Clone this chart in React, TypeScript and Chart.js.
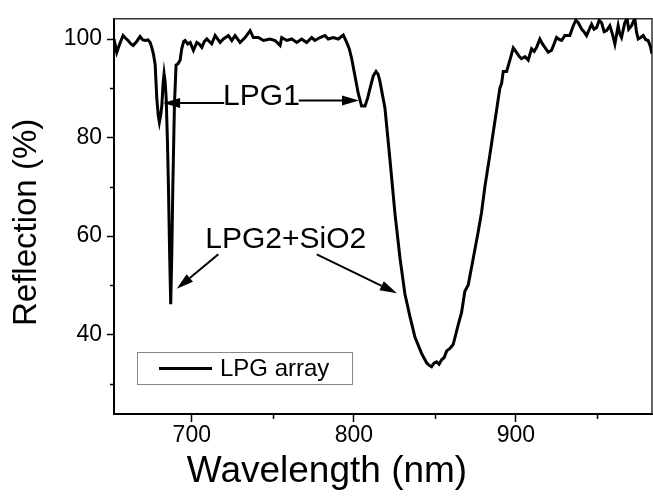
import React, { useEffect, useRef } from "react";
import { Chart, registerables } from "chart.js";

Chart.register(...registerables);

// ---------- data ----------
const seriesLabel = "LPG array";
const xTitle = "Wavelength (nm)";
const yTitle = "Reflection (%)";

const wavelengths = [
  652.0, 653.7, 655.5, 657.6, 659.0, 660.7, 662.5, 663.8, 666.0, 668.1, 669.8, 671.2, 673.0, 674.3, 675.3,
  676.3, 677.4, 678.4, 679.3, 680.0, 680.8, 681.5, 682.3, 682.9, 683.5, 684.2, 685.0, 685.6, 686.3, 687.0,
  687.7, 688.3, 689.3, 690.3, 691.5, 692.8, 693.8, 695.0, 695.9, 697.5, 699.0, 701.0, 703.1, 704.5, 706.2,
  707.8, 709.3, 712.3, 714.4, 717.5, 719.5, 722.6, 724.7, 726.7, 729.8, 732.9, 736.0, 738.0, 741.1, 744.2,
  748.3, 751.4, 754.5, 755.5, 758.6, 761.7, 764.8, 767.8, 770.9, 774.0, 776.0, 779.1, 782.2, 784.2, 787.3,
  790.4, 793.5, 795.6, 797.2, 798.7, 800.7, 802.7, 804.8, 806.9, 808.5, 810.0, 812.0, 813.7, 815.0, 816.1,
  819.2, 822.3, 825.4, 828.5, 831.5, 834.6, 837.7, 841.8, 844.9, 846.5, 848.0, 849.5, 851.1, 852.6, 854.2,
  855.8, 857.3, 859.3, 861.3, 864.4, 866.5, 868.5, 870.6, 873.7, 876.8, 878.8, 880.9, 884.0, 887.1, 890.1,
  891.2, 892.2, 894.3, 896.3, 898.4, 900.4, 902.0, 903.5, 905.6, 907.6, 909.7, 911.3, 912.8, 914.8, 916.4,
  917.9, 920.0, 922.0, 923.6, 925.1, 926.7, 928.2, 930.2, 933.3, 935.4, 937.0, 938.5, 940.6, 942.0, 943.6,
  946.7, 948.2, 949.8, 951.4, 952.9, 954.5, 956.0, 958.0, 959.6, 961.1, 963.1, 964.0, 965.2, 967.2, 968.6,
  969.6, 971.4, 973.4, 974.4, 975.5, 977.0, 978.6, 980.0, 981.6, 983.0, 984.0,
];

const reflection = [
  100.0, 97.3, 99.0, 100.7, 100.2, 99.7, 99.0, 98.7, 99.5, 100.5, 99.8, 99.7, 99.8, 99.3, 98.3,
  97.0, 94.8, 88.0, 84.5, 83.1, 84.5, 86.4, 91.0, 93.0, 91.5, 88.0, 79.0, 70.0, 57.0, 46.2,
  57.0, 70.0, 86.7, 94.7, 95.0, 95.7, 98.0, 99.5, 99.7, 99.0, 99.3, 97.7, 99.3, 99.0, 98.3,
  99.5, 100.0, 99.0, 100.7, 99.3, 100.0, 100.7, 99.7, 100.7, 99.3, 100.3, 101.7, 100.3, 100.3, 99.7,
  100.0, 99.7, 98.7, 100.3, 99.7, 100.0, 99.3, 100.0, 99.3, 100.3, 99.7, 100.3, 100.7, 100.0, 100.3,
  100.0, 100.8, 99.3, 98.0, 96.0, 92.5, 89.0, 86.4, 86.4, 88.0, 90.0, 92.5, 93.4, 92.8, 91.4,
  86.0, 75.5, 64.5, 55.5, 48.3, 43.7, 39.5, 36.2, 34.3, 33.8, 33.5, 34.2, 34.5, 34.0, 34.9,
  35.4, 36.7, 37.2, 38.0, 42.0, 44.5, 48.8, 50.1, 55.5, 61.0, 64.8, 70.1, 76.6, 83.4, 90.0,
  91.0, 93.4, 93.4, 95.7, 98.2, 97.3, 96.5, 96.0, 96.4, 95.7, 98.0, 97.5, 98.3, 100.0, 99.0,
  98.3, 97.3, 97.7, 99.0, 100.3, 99.9, 99.7, 100.7, 100.7, 102.7, 103.8, 103.3, 102.0, 101.5, 100.7,
  103.0, 102.0, 102.3, 103.8, 103.3, 101.5, 101.7, 102.7, 101.0, 99.0, 102.7, 101.2, 100.3, 103.3, 104.2,
  102.0, 102.7, 104.2, 101.5, 100.0, 100.3, 100.7, 99.9, 99.7, 98.5, 97.0,
];

// axis ranges and ticks
const xRange = [652, 984];
const yRange = [23.9, 104.1];
const xMajorTicks = [700, 800, 900];
const xMinorTicks = [750, 850, 950];
const yMajorTicks = [40, 60, 80, 100];
const yMinorTicks = [30, 50, 70, 90];

// annotations (data coordinates)
const annotationTexts = ["LPG1", "LPG2+SiO2"];
const annotationAnchors = [
  [743, 88.3],
  [758, 59.2],
];
const arrowStarts = [
  [720.0, 87.0],
  [766.0, 87.5],
  [716.4, 56.3],
  [777.1, 56.3],
];
const arrowEnds = [
  [682.3, 87.0],
  [803.2, 87.5],
  [690.7, 49.3],
  [826.6, 48.4],
];

// ---------- styling ----------
const FONT = "'Liberation Sans', Arial, Helvetica, sans-serif";

function drawArrow(ctx: CanvasRenderingContext2D, x1: number, y1: number, x2: number, y2: number) {
  const ang = Math.atan2(y2 - y1, x2 - x1);
  const headLen = 17;
  const headHalf = 5;
  const bx = x2 - headLen * Math.cos(ang);
  const by = y2 - headLen * Math.sin(ang);
  ctx.beginPath();
  ctx.moveTo(x1, y1);
  ctx.lineTo(bx, by);
  ctx.stroke();
  ctx.beginPath();
  ctx.moveTo(x2, y2);
  ctx.lineTo(bx + headHalf * Math.sin(ang), by - headHalf * Math.cos(ang));
  ctx.lineTo(bx - headHalf * Math.sin(ang), by + headHalf * Math.cos(ang));
  ctx.closePath();
  ctx.fill();
}

const decorPlugin = {
  id: "decor",
  beforeDatasetsDraw(chart: any) {
    const { ctx, chartArea: a } = chart;
    ctx.save();
    ctx.strokeStyle = "#333";
    ctx.lineWidth = 1.5;
    ctx.beginPath();
    ctx.moveTo(a.left, a.top);
    ctx.lineTo(a.right, a.top);
    ctx.lineTo(a.right, a.bottom);
    ctx.stroke();
    ctx.restore();
  },
  afterDatasetsDraw(chart: any) {
    const { ctx, chartArea: a, scales } = chart;
    const xs = scales.x;
    const ys = scales.y;
    ctx.save();

    // minor ticks
    ctx.strokeStyle = "#000";
    ctx.lineWidth = 1.5;
    ctx.beginPath();
    for (const v of xMinorTicks) {
      const px = Math.round(xs.getPixelForValue(v)) + 0.5;
      ctx.moveTo(px, a.bottom);
      ctx.lineTo(px, a.bottom + 5);
    }
    for (const v of yMinorTicks) {
      const py = Math.round(ys.getPixelForValue(v)) + 0.5;
      ctx.moveTo(a.left - 4, py);
      ctx.lineTo(a.left, py);
    }
    ctx.stroke();

    // annotations
    ctx.fillStyle = "#000";
    ctx.strokeStyle = "#000";
    ctx.lineWidth = 2;
    for (let i = 0; i < arrowStarts.length; i++) {
      drawArrow(
        ctx,
        xs.getPixelForValue(arrowStarts[i][0]),
        ys.getPixelForValue(arrowStarts[i][1]),
        xs.getPixelForValue(arrowEnds[i][0]),
        ys.getPixelForValue(arrowEnds[i][1])
      );
    }
    ctx.font = `30px ${FONT}`;
    ctx.textAlign = "center";
    ctx.textBaseline = "middle";
    for (let i = 0; i < annotationTexts.length; i++) {
      ctx.fillText(
        annotationTexts[i],
        xs.getPixelForValue(annotationAnchors[i][0]),
        ys.getPixelForValue(annotationAnchors[i][1])
      );
    }

    // legend
    const ds = chart.data.datasets[0];
    const lx = a.left + 23;
    const ly = a.bottom - 62;
    ctx.fillStyle = "#fff";
    ctx.fillRect(lx, ly, 215, 32);
    ctx.strokeStyle = "#888";
    ctx.lineWidth = 1;
    ctx.strokeRect(lx + 0.5, ly + 0.5, 215, 32);
    ctx.strokeStyle = ds.borderColor;
    ctx.lineWidth = 3;
    ctx.beginPath();
    ctx.moveTo(lx + 22, ly + 16.5);
    ctx.lineTo(lx + 75, ly + 16.5);
    ctx.stroke();
    ctx.fillStyle = "#000";
    ctx.font = `24px ${FONT}`;
    ctx.textAlign = "left";
    ctx.textBaseline = "middle";
    ctx.fillText(ds.label, lx + 83, ly + 17);

    // axis titles
    ctx.textAlign = "center";
    ctx.textBaseline = "alphabetic";
    ctx.font = `37px ${FONT}`;
    ctx.fillText(xTitle, a.left + 213, 482);
    ctx.save();
    ctx.font = `33px ${FONT}`;
    ctx.textBaseline = "middle";
    ctx.translate(27, (a.top + a.bottom) / 2 + 6);
    ctx.rotate(-Math.PI / 2);
    ctx.fillText(yTitle, 0, 0);
    ctx.restore();

    ctx.restore();
  },
};

export default function App() {
  const canvasRef = useRef<HTMLCanvasElement | null>(null);

  useEffect(() => {
    const canvas = canvasRef.current;
    if (!canvas) return;
    const points = wavelengths.map((w, i) => ({ x: w, y: reflection[i] }));
    const chart = new Chart(canvas, {
      type: "line",
      data: {
        datasets: [
          {
            label: seriesLabel,
            data: points,
            borderColor: "#000",
            borderWidth: 3,
            pointRadius: 0,
            tension: 0,
            fill: false,
          },
        ],
      },
      options: {
        responsive: false,
        animation: false,
        devicePixelRatio: 1,
        layout: { padding: { top: 12, right: 1, left: 0, bottom: 0 } },
        plugins: {
          legend: { display: false },
          tooltip: { enabled: false },
          title: { display: false },
        },
        scales: {
          x: {
            type: "linear",
            min: xRange[0],
            max: xRange[1],
            afterFit: (s: any) => {
              s.height = 83;
            },
            afterBuildTicks: (s: any) => {
              s.ticks = xMajorTicks.map((v) => ({ value: v }));
            },
            ticks: {
              autoSkip: false,
              maxRotation: 0,
              padding: 0,
              color: "#000",
              font: { family: FONT, size: 23 },
              callback: (v: any) => String(v),
            },
            grid: {
              drawOnChartArea: false,
              drawTicks: true,
              tickLength: 8,
              tickWidth: 1.5,
              tickColor: "#000",
            },
            border: { display: true, color: "#000", width: 2 },
          },
          y: {
            type: "linear",
            min: yRange[0],
            max: yRange[1],
            afterFit: (s: any) => {
              s.width = 114;
            },
            afterBuildTicks: (s: any) => {
              s.ticks = yMajorTicks.map((v) => ({ value: v }));
            },
            ticks: {
              autoSkip: false,
              padding: 5,
              color: "#000",
              font: { family: FONT, size: 23 },
              callback: (v: any) => String(v),
            },
            grid: {
              drawOnChartArea: false,
              drawTicks: true,
              tickLength: 7,
              tickWidth: 1.5,
              tickColor: "#000",
            },
            border: { display: true, color: "#000", width: 2 },
          },
        },
      },
      plugins: [decorPlugin],
    });
    return () => chart.destroy();
  }, []);

  return (
    <div style={{ position: "absolute", left: 0, top: 0, width: 653, height: 497, background: "#fff" }}>
      <canvas ref={canvasRef} width={653} height={497} style={{ display: "block" }} />
    </div>
  );
}
